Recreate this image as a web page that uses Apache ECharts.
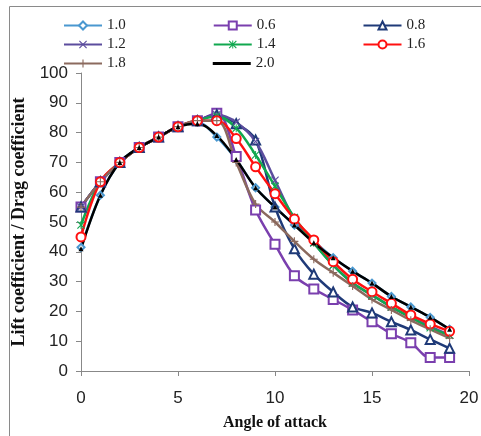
<!DOCTYPE html>
<html><head><meta charset="utf-8">
<script src="https://cdn.jsdelivr.net/npm/echarts@6/dist/echarts.min.js"></script>
<style>html,body{margin:0;padding:0;background:#fff}#c{width:481px;height:436px}</style>
</head><body><div id="c"></div>
<script>
const angles = [0,1,2,3,4,5,6,7,8,9,10,11,12,13,14,15,16,17,18,19];
const s10 = [41.5,59,70,75,78.5,82,83.5,78.5,71,61.5,55,49,43.5,38,33.5,29.5,25,21.5,18,14];
const s06 = [55,63.5,70,75,78.5,82,84,86.5,72,54,42.5,32,27.5,24,20.5,16.5,12.5,9.5,4.5,4.5];
const s08 = [55,63.5,70,75,78.5,82,84,86,83,77.5,55,41,32.5,26.5,21.5,19.5,16.5,13.8,10.6,7.6];
const s12 = [55,63.5,70,75,78.5,82,84,86,83.5,77,64,51,43,35.5,29.5,25.5,21.5,18,15,12];
const s14 = [49,63.5,70,75,78.5,82,84,85.5,81.5,72.5,62,51.5,43,35.5,29.5,25.5,21.5,18,14.5,12];
const s16 = [45,63.5,70,75,78.5,82,84,84,78,68.5,59.5,51,44,36.7,30.8,26.6,22.7,18.8,15.8,13.3];
const s18 = [55,63.5,70,75,78.5,82,84,84,70,56,50,43.5,37.5,33,28.5,24,20.5,17,14,11];
const s20 = [41,59,70,75,78.5,82,83,79,71,61.5,55,49,43,38,33.5,29.5,25,21.5,18,14];
const names = ['1.0','0.6','0.8','1.2','1.4','1.6','1.8','2.0'];
const values = [s10,s06,s08,s12,s14,s16,s18,s20];
const colors = ['#4a98d0','#7a3fae','#1f3a78','#5c4d9e','#10a84f','#ff1010','#8b6a5e','#000000'];
const X = 'path://M0,1L1,0L5,4L9,0L10,1L6,5L10,9L9,10L5,6L1,10L0,9L4,5Z';
const STAR = 'path://M4.4,0H5.6V10H4.4Z M0,1L1,0L5,4L9,0L10,1L6,5L10,9L9,10L5,6L1,10L0,9L4,5Z';
const PLUS = 'path://M4.3,0H5.7V10H4.3Z M0,4.3H10V5.7H0Z';
const symbols = ['emptyDiamond','emptyRect','emptyTriangle',X,STAR,'emptyCircle',PLUS,'triangle'];
const sizes = [7,9,9,8,8,9,8,5];

const series = names.map((n,i)=>({
  name:n, type:'line', smooth:0.35,
  data: angles.map((a,j)=>[a, values[i][j]]),
  symbol: symbols[i], symbolSize: sizes[i],
  lineStyle:{color:colors[i], width:2.5},
  itemStyle:{color:colors[i], borderWidth:1.5},
  emphasis:{disabled:true}
}));

const legendBase = {
  orient:'horizontal', itemWidth:38, itemHeight:10, itemGap:87,
  textStyle:{fontFamily:'Liberation Serif', fontSize:15, color:'#222'},
  selectedMode:false
};
const chart = echarts.init(document.getElementById('c'));
chart.setOption({
  animation:false,
  backgroundColor:'#fff',
  graphic:[{type:'rect', shape:{x:9.5,y:6.5,width:490,height:450}, style:{fill:'none', stroke:'#8a8a8a', lineWidth:1}, silent:true}],
  legend:[
    Object.assign({left:58, top:13, data:['1.0','0.6','0.8']}, legendBase),
    Object.assign({left:58, top:32, data:['1.2','1.4','1.6']}, legendBase),
    Object.assign({left:58, top:51, data:['1.8',{name:'2.0', icon:'path://M0,0H40V3H0Z'}]}, legendBase)
  ],
  grid:{left:81, right:12, top:73, bottom:65, containLabel:false, outerBoundsMode:'none'},
  xAxis:{
    type:'value', min:0, max:20, interval:5,
    name:'Angle of attack', nameLocation:'middle', nameGap:44,
    nameTextStyle:{fontFamily:'Liberation Serif', fontWeight:'bold', fontSize:16, color:'#111'},
    axisLine:{lineStyle:{color:'#888', width:1}},
    axisTick:{show:true, length:5, lineStyle:{color:'#888'}},
    axisLabel:{fontFamily:'Liberation Sans', fontSize:17, color:'#222', margin:19},
    splitLine:{show:false}
  },
  yAxis:{
    type:'value', min:0, max:100, interval:10,
    name:'Lift coefficient / Drag coefficient', nameLocation:'middle', nameGap:52,
    nameTextStyle:{fontFamily:'Liberation Serif', fontWeight:'bold', fontSize:18, color:'#111'},
    axisLine:{show:true, lineStyle:{color:'#888', width:1}},
    axisTick:{show:true, length:5, lineStyle:{color:'#888'}},
    axisLabel:{fontFamily:'Liberation Sans', fontSize:17, color:'#222', margin:13},
    splitLine:{show:false}
  },
  series: series
});
</script></body></html>
